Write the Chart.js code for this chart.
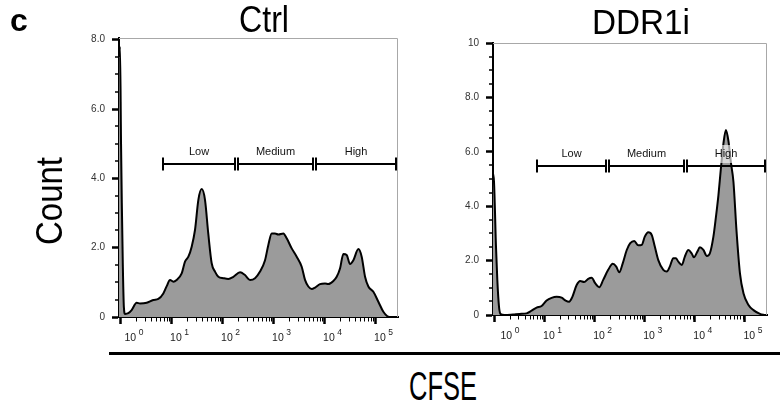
<!DOCTYPE html>
<html>
<head>
<meta charset="utf-8">
<script src="https://cdn.jsdelivr.net/npm/chart.js@4.4.1/dist/chart.umd.min.js"></script>
<style>
html,body{margin:0;padding:0;background:#fff;}
#wrap{position:relative;width:783px;height:403px;overflow:hidden;font-family:"Liberation Sans",Arial,sans-serif;}
canvas{position:absolute;}
.txt{position:absolute;white-space:nowrap;line-height:1;color:#000;font-family:"Liberation Sans",Arial,sans-serif;}
</style>
</head>
<body>
<div id="wrap">
  <canvas id="ctrlChart" width="400" height="350" style="left:0;top:0;width:400px;height:350px"></canvas>
  <canvas id="ddrChart" width="383" height="350" style="left:400px;top:0;width:383px;height:350px"></canvas>
  <div class="txt" id="panelLetter" style="font-weight:bold;font-size:32px;left:10px;top:4px">c</div>
  <div class="txt" id="titleCtrl" style="font-size:36px">Ctrl</div>
  <div class="txt" id="titleDdr" style="font-size:35px">DDR1i</div>
  <div class="txt" id="yTitle" style="font-size:36px">Count</div>
  <div class="txt" id="xTitle" style="font-size:40px">CFSE</div>
  <div style="position:absolute;left:109px;top:352px;width:671px;height:3px;background:#000"></div>
</div>
<script>
// ---------- data (x = log10 CFSE intensity, y = count) ----------
const ctrlLogCFSE = [-0.03,-0.01,0.01,0.025,0.045,0.065,0.088,0.153,0.218,0.316,0.382,0.513,0.643,0.741,0.839,0.905,0.97,1.035,1.10,1.199,1.264,1.33,1.395,1.46,1.526,1.591,1.656,1.72,1.787,1.852,1.918,2.016,2.114,2.212,2.343,2.44,2.539,2.637,2.735,2.833,2.898,2.964,3.029,3.094,3.192,3.258,3.356,3.454,3.552,3.617,3.682,3.748,3.813,3.911,4.009,4.075,4.173,4.238,4.303,4.369,4.434,4.5,4.565,4.663,4.728,4.794,4.859,4.957,5.055,5.153,5.25,5.32];
const ctrlCount   = [7.5,7.8,5.0,3.3,1.5,0.3,0.09,0.11,0.20,0.41,0.39,0.41,0.49,0.52,0.68,0.89,1.07,1.02,1.07,1.26,1.60,1.74,2.03,2.51,3.38,3.69,3.38,2.41,1.55,1.31,1.16,1.12,1.10,1.16,1.29,1.21,1.07,1.12,1.31,1.64,2.08,2.41,2.41,2.38,2.41,2.27,1.98,1.74,1.45,1.07,0.88,0.81,0.85,0.95,0.97,0.95,1.04,1.16,1.40,1.82,1.79,1.53,1.64,1.96,1.74,1.16,0.88,0.73,0.44,0.15,0.01,0];

const ddrLogCFSE = [-0.03,-0.01,0.03,0.056,0.09,0.124,0.2,0.37,0.5,0.64,0.74,0.84,0.94,1.04,1.14,1.24,1.34,1.42,1.49,1.55,1.64,1.71,1.79,1.87,1.94,2.01,2.09,2.17,2.27,2.36,2.43,2.49,2.56,2.64,2.71,2.79,2.87,2.94,3.00,3.07,3.14,3.20,3.27,3.37,3.44,3.50,3.57,3.62,3.67,3.74,3.80,3.87,3.94,3.98,4.05,4.10,4.17,4.24,4.30,4.37,4.42,4.47,4.52,4.57,4.62,4.67,4.72,4.77,4.83,4.90,4.97,5.07,5.17,5.30,5.40];
const ddrCount   = [5.2,4.9,2.5,1.3,0.3,0.03,0,0.02,0.04,0.06,0.16,0.27,0.33,0.53,0.63,0.67,0.64,0.53,0.49,0.65,1.10,1.25,1.21,1.33,1.37,1.17,1.02,1.29,1.66,1.88,1.78,1.57,1.90,2.39,2.64,2.72,2.56,2.58,2.88,3.04,2.94,2.52,2.02,1.66,1.60,1.78,2.09,2.09,1.96,1.84,2.15,2.39,2.25,2.12,2.33,2.49,2.39,2.17,2.27,2.88,3.6,4.4,5.4,6.3,6.8,6.4,5.6,4.9,3.13,1.53,0.80,0.37,0.18,0.04,0];

// gates (log10 CFSE) and the count level at which they are drawn
const gateNames      = ['Low','Medium','High'];
const ctrlGateStart  = [0.833, 2.303, 3.833];
const ctrlGateEnd    = [2.245, 3.774, 5.401];
const ctrlGateLevel  = 4.42;
const ddrGateStart   = [0.848, 2.286, 3.843];
const ddrGateEnd     = [2.226, 3.783, 5.40];
const ddrGateLevel   = 5.48;

// ticks
const xDecades        = [0,1,2,3,4,5];
const xMinorDecades   = [0,1,2,3,4];
const minorMultipliers= [2,3,4,5,6,7,8,9];
const ctrlYTicks      = [0,2,4,6,8];
const ctrlYLabels     = ['0','2.0','4.0','6.0','8.0'];
const ddrYTicks       = [0,2,4,6,8,10];
const ddrYLabels      = ['0','2.0','4.0','6.0','8.0','10'];
const yMinorStep      = 0.5;

const FONT = '"Liberation Sans", Arial, sans-serif';
Chart.defaults.font.family = FONT;

const histPlugin = {
  id: 'hist',
  beforeDatasetsDraw(chart) {
    const {ctx, chartArea: a} = chart;
    ctx.save();
    ctx.strokeStyle = '#a8a8a8';
    ctx.lineWidth = 1;
    ctx.beginPath();
    ctx.moveTo(a.left, a.top + 0.5);
    ctx.lineTo(a.right - 0.5, a.top + 0.5);
    ctx.lineTo(a.right - 0.5, a.bottom);
    ctx.stroke();
    ctx.restore();
  },
  afterDatasetsDraw(chart, args, o) {
    const {ctx} = chart;
    const xs = chart.scales.x, ys = chart.scales.y;
    const y = Math.round(ys.getPixelForValue(o.gateLevel));
    ctx.save();
    ctx.font = '11px ' + FONT;
    ctx.textAlign = 'center';
    ctx.textBaseline = 'alphabetic';
    for (let i = 0; i < o.gateNames.length; i++) {
      const x1 = Math.round(xs.getPixelForValue(o.gateStart[i]));
      const x2 = Math.round(xs.getPixelForValue(o.gateEnd[i]));
      const mid = (x1 + x2) / 2;
      const w = ctx.measureText(o.gateNames[i]).width;
      ctx.fillStyle = 'rgba(255,255,255,0.62)';
      ctx.fillRect(mid - w / 2 - 2, y - 21, w + 4, 18);
      ctx.fillStyle = '#111';
      ctx.fillText(o.gateNames[i], mid, y - 9);
      ctx.strokeStyle = '#000';
      ctx.lineWidth = 2;
      ctx.beginPath();
      ctx.moveTo(x1, y); ctx.lineTo(x2, y);
      ctx.moveTo(x1, y - 6.5); ctx.lineTo(x1, y + 6.5);
      ctx.moveTo(x2, y - 6.5); ctx.lineTo(x2, y + 6.5);
      ctx.stroke();
    }
    ctx.restore();
  },
  afterDraw(chart, args, o) {
    const {ctx, chartArea: a} = chart;
    const xs = chart.scales.x, ys = chart.scales.y;
    ctx.save();
    ctx.strokeStyle = '#000';
    // minor x ticks
    ctx.lineWidth = 1;
    ctx.beginPath();
    for (const n of o.minorDecades) {
      for (const m of o.multipliers) {
        const px = Math.round(xs.getPixelForValue(n + Math.log10(m))) + 0.5;
        ctx.moveTo(px, a.bottom + 1);
        ctx.lineTo(px, a.bottom + 4.5);
      }
    }
    ctx.stroke();
    // minor y ticks
    ctx.lineWidth = 1.5;
    ctx.beginPath();
    for (let v = o.yMinorStep; v < ys.max; v += o.yMinorStep) {
      if (Math.abs(v / 2 - Math.round(v / 2)) < 1e-6) continue;
      const py = Math.round(ys.getPixelForValue(v));
      ctx.moveTo(a.left - 4, py);
      ctx.lineTo(a.left, py);
    }
    ctx.stroke();
    // x tick labels 10^n
    ctx.fillStyle = '#222';
    ctx.textAlign = 'left';
    ctx.textBaseline = 'alphabetic';
    const base = a.bottom + 24;
    for (const n of o.decades) {
      const px = xs.getPixelForValue(n) + (n === 0 ? o.firstShift : -1.5);
      ctx.font = '10.5px ' + FONT;
      ctx.fillText('10', px, base);
      const w = ctx.measureText('10').width;
      ctx.font = '8.5px ' + FONT;
      ctx.fillText(String(n), px + w + 2.5, base - 6);
    }
    ctx.restore();
  }
};

function makeChart(id, xsArr, ysArr, yMax, yTicks, yLabels, pad, gateStart, gateEnd, gateLevel, firstShift) {
  return new Chart(document.getElementById(id), {
    type: 'line',
    data: {
      datasets: [{
        data: xsArr.map((x, i) => ({x: x, y: ysArr[i]})),
        borderColor: '#000',
        borderWidth: 2,
        backgroundColor: '#9b9b9b',
        fill: 'origin',
        pointRadius: 0,
        cubicInterpolationMode: 'monotone',
        borderJoinStyle: 'round'
      }]
    },
    options: {
      responsive: false,
      animation: false,
      devicePixelRatio: 1,
      layout: {padding: pad},
      plugins: {
        legend: {display: false},
        tooltip: {enabled: false},
        hist: {
          gateNames: gateNames, gateStart: gateStart, gateEnd: gateEnd, gateLevel: gateLevel,
          decades: xDecades, minorDecades: xMinorDecades, multipliers: minorMultipliers,
          yMinorStep: yMinorStep, firstShift: firstShift
        }
      },
      scales: {
        x: {
          type: 'linear',
          min: -0.03,
          max: 5.44,
          afterBuildTicks: s => { s.ticks = xDecades.map(v => ({value: v})); },
          afterFit: s => { s.height = 30; },
          ticks: {callback: () => '', autoSkip: false},
          grid: {drawOnChartArea: false, drawTicks: true, tickLength: 7, tickWidth: 2.5, tickColor: '#000'},
          border: {display: true, color: '#000', width: 2}
        },
        y: {
          type: 'linear',
          min: 0,
          max: yMax,
          afterBuildTicks: s => { s.ticks = yTicks.map(v => ({value: v})); },
          afterFit: s => { s.width = 40; },
          ticks: {
            callback: (v, i) => yLabels[i],
            autoSkip: false,
            padding: 7,
            color: '#333',
            font: {size: 10, family: FONT}
          },
          grid: {drawOnChartArea: false, drawTicks: true, tickLength: 7, tickWidth: 2.5, tickColor: '#000'},
          border: {display: true, color: '#000', width: 2}
        }
      }
    },
    plugins: [histPlugin]
  });
}

makeChart('ctrlChart', ctrlLogCFSE, ctrlCount, 8.05, ctrlYTicks, ctrlYLabels,
  {left: 79, right: 2, top: 38, bottom: 3}, ctrlGateStart, ctrlGateEnd, ctrlGateLevel, 4);
makeChart('ddrChart', ddrLogCFSE, ddrCount, 10, ddrYTicks, ddrYLabels,
  {left: 53, right: 16, top: 43, bottom: 5}, ddrGateStart, ddrGateEnd, ddrGateLevel, 6);

// big labels: centre them and squeeze horizontally to the reference widths
const mctx = document.createElement('canvas').getContext('2d');
function place(id, cx, cy, targetW, rotate) {
  const el = document.getElementById(id);
  const cs = getComputedStyle(el);
  mctx.font = cs.fontWeight + ' ' + cs.fontSize + ' ' + FONT;
  const w = mctx.measureText(el.textContent).width;
  const s = targetW / w;
  el.style.left = cx + 'px';
  el.style.top = cy + 'px';
  el.style.transform = 'translate(-50%,-50%)' + (rotate ? ' rotate(-90deg)' : '') + ' scaleX(' + s.toFixed(3) + ')';
}
place('titleCtrl', 264, 20, 50, false);
place('titleDdr', 641, 20.5, 98, false);
place('yTitle', 50, 201, 88, true);
place('xTitle', 443, 385.5, 68, false);
</script>
</body>
</html>
